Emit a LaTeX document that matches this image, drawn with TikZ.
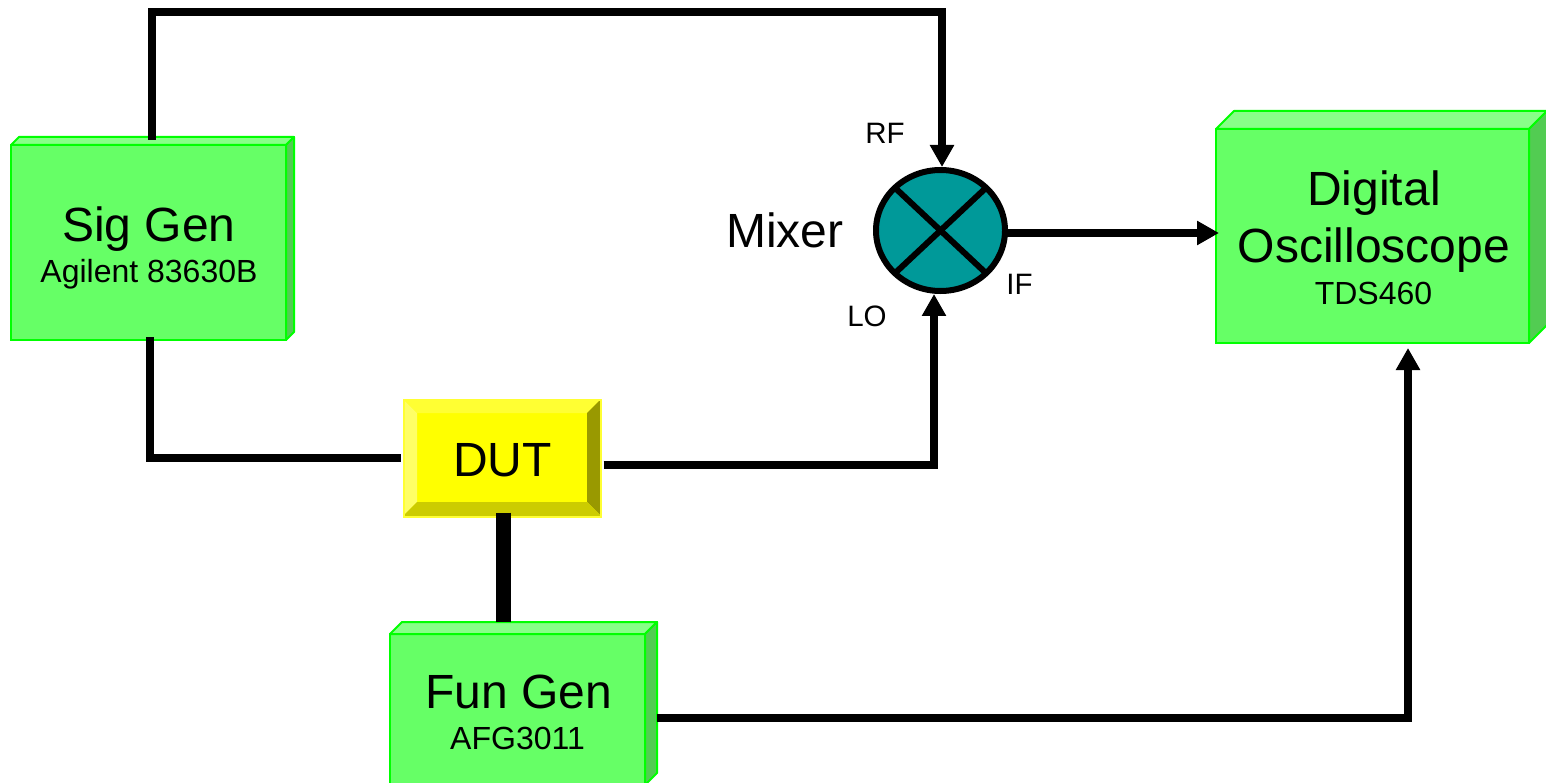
\documentclass[tikz,border=0pt]{standalone}
\usepackage{fontspec}
\setmainfont{Liberation Sans}
\usetikzlibrary{arrows.meta,shapes.geometric,calc}
\definecolor{gfront}{HTML}{66FF66}
\definecolor{gtop}{HTML}{88FF88}
\definecolor{gside}{HTML}{52CC52}
\definecolor{gline}{HTML}{00FF00}
\definecolor{yline}{HTML}{FFFF33}
\definecolor{ybody}{HTML}{FFFF00}
\definecolor{yleft}{HTML}{FFFF66}
\definecolor{ytop}{HTML}{FFFF33}
\definecolor{yright}{HTML}{999900}
\definecolor{ybot}{HTML}{CCCC00}
\definecolor{mixfill}{HTML}{009999}
\newcommand{\bigtxt}{\fontsize{48}{58}\selectfont}
\newcommand{\subtxt}{\fontsize{32}{38}\selectfont}
\newcommand{\porttxt}{\fontsize{29.5}{34}\selectfont}
\tikzset{
  x=1pt,y=-1pt,
  frontbox/.style={rectangle,draw=gline,fill=gfront,line width=2pt,inner sep=0pt,outer sep=0pt},
  face/.style={draw=gline,line width=2pt,line join=round},
  wire/.style={line width=7.5pt,draw=black},
  arrowwire/.style={wire,-{Triangle[length=22pt,width=23pt]}},
  thickwire/.style={line width=15pt,draw=black},
  txt/.style={inner sep=0pt,outer sep=0pt,align=center,text=black},
}
% name, x1, y1, x2, y2, depth
\newcommand{\solidbox}[6]{%
  \node[frontbox,minimum width={#4-#2},minimum height={#5-#3}] (#1) at ({(#2+#4)/2},{(#3+#5)/2}) {};
  \fill[gtop,face] (#1.north west) -- ++(#6pt,#6pt) -- ($(#1.north east)+(#6pt,#6pt)$) -- (#1.north east) -- cycle;
  \fill[gside,face] (#1.north east) -- ++(#6pt,#6pt) -- ($(#1.south east)+(#6pt,#6pt)$) -- (#1.south east) -- cycle;
}
\begin{document}
\begin{tikzpicture}
\useasboundingbox (0,0) rectangle (1546,783);
\fill[white] (0,0) rectangle (1546,783);

\solidbox{sig}{11}{145}{286}{340}{8}
\solidbox{fun}{390}{634}{645}{785}{12}
\solidbox{scope}{1216}{129}{1529}{343}{18}

% DUT
\node[rectangle,draw=yline,fill=ybody,line width=2pt,inner sep=0pt,outer sep=0pt,minimum width=197pt,minimum height=117pt] (dut) at (502,458) {};
\fill[yleft] (403,399) -- (417,413) -- (417,502) -- (403,516) -- cycle;
\fill[ytop] (403,399) -- (417,413) -- (587,413) -- (601,399) -- cycle;
\fill[yright] (601,399) -- (587,413) -- (587,502) -- (601,516) -- cycle;
\fill[ybot] (403,516) -- (417,502) -- (587,502) -- (601,516) -- cycle;
\draw[yline,line width=2pt] (dut.north west) rectangle (dut.south east);

% Mixer
\node[ellipse,draw=black,fill=mixfill,line width=6pt,inner sep=0pt,outer sep=0pt,minimum width=129pt,minimum height=121pt] (mixer) at (940.5,230.5) {};
\draw[black,line width=6pt] (mixer.north west) -- (mixer.south east);
\draw[black,line width=6pt] (mixer.north east) -- (mixer.south west);

% Texts
\node[txt,anchor=base] (sigtitle) at (149,242) {\bigtxt Sig Gen};
\node[txt,anchor=base] (sigsub) at (149,283) {\subtxt Agilent 83630B};
\node[txt,anchor=base] (duttitle) at (502.5,476) {\bigtxt DUT};
\node[txt,anchor=base] (funtitle) at (518.5,708) {\bigtxt Fun Gen};
\node[txt,anchor=base] (funsub) at (517.5,749) {\subtxt AFG3011};
\node[txt,anchor=base] (scopetitle) at (1374,206) {\bigtxt Digital};
\node[txt,anchor=base] (scopetitleb) at (1374,263) {\bigtxt Oscilloscope};
\node[txt,anchor=base] (scopesub) at (1373.5,305) {\subtxt TDS460};
\node[txt,anchor=base] (mixlabel) at (785,248) {\bigtxt Mixer};
\node[txt,anchor=base] (rf) at (885,144) {\porttxt RF};
\node[txt,anchor=base] (lo) at (867,326.5) {\porttxt LO};
\node[txt,anchor=base] (if) at (1019.5,295) {\porttxt IF};

% Connector bends
\coordinate (rfbend) at (942,12);
\coordinate (dutbend) at (150,458);
\coordinate (lobend) at (934,465);
\coordinate (scopebend) at (1408,718);

% Connectors
\draw[arrowwire] ([xshift=3.5pt,yshift=5pt]sig.north) |- (rfbend) -- ([xshift=1.5pt,yshift=3pt]mixer.north);
\draw[wire] ([xshift=1.5pt,yshift=3pt]sig.south) |- (dutbend) -- ([xshift=-3pt]dut.west |- dutbend);
\draw[arrowwire] ([xshift=3pt,yshift=-7pt]dut.east) -| (lobend) -- ([xshift=-6.5pt,yshift=-3pt]mixer.south);
\draw[arrowwire] ([xshift=1.5pt,yshift=-2.5pt]mixer.east) -- ([xshift=3pt,yshift=3pt]scope.west);
\draw[thickwire] ([xshift=1pt,yshift=4pt]dut.south) -- ([xshift=-14.5pt,yshift=12pt]fun.north);
\draw[arrowwire] ([xshift=12pt,yshift=-8.5pt]fun.east) -- (scopebend) -- ([xshift=35.5pt,yshift=-5pt]scope.south);
\end{tikzpicture}
\end{document}
